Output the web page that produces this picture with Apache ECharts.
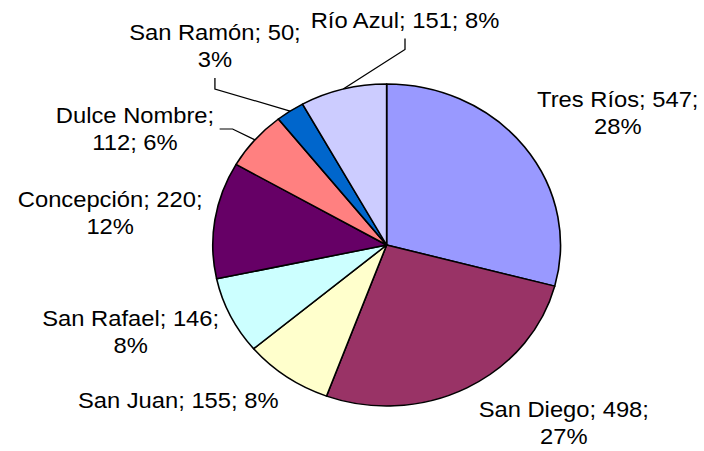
<!DOCTYPE html>
<html>
<head>
<meta charset="utf-8">
<script src="https://cdn.jsdelivr.net/npm/echarts@6/dist/echarts.min.js"></script>
<style>
  html, body { margin: 0; padding: 0; background: #fff; overflow: hidden; }
  /* the pie is drawn slightly wider than tall, like the original spreadsheet chart */
  #chart { width: 652px; height: 451px; transform: scaleX(1.08); transform-origin: 0 0; }
</style>
</head>
<body>
<div id="chart"></div>
<script>
// Districts and their counts
const districts = ['Tres Ríos', 'San Diego', 'San Juan', 'San Rafael', 'Concepción', 'Dulce Nombre', 'San Ramón', 'Río Azul'];
const counts = [547, 498, 155, 146, 220, 112, 50, 151];
// Percent shown in each label
const shares = [28, 27, 8, 8, 12, 6, 3, 8];
// Where each label wraps onto a second line
const breakAfter = ['value', 'value', 'none', 'value', 'value', 'name', 'value', 'none'];

const sliceColors = ['#9999FF', '#993366', '#FFFFCC', '#CCFFFF', '#660066', '#FF8080', '#0066CC', '#CCCCFF'];

// Label anchor points (centre of the text block) and leader-line sides
const labelPos = [[572, 113], [522, 423], [165, 400], [121, 332], [102, 213], [125, 129], [199, 46], [375, 20]];
const leaderSide = [null, null, null, null, null, 'right', 'bottom', 'bottom'];

function labelText(i) {
  const n = districts[i], v = counts[i], p = shares[i] + '%';
  if (breakAfter[i] === 'value') return n + '; ' + v + ';\n' + p;
  if (breakAfter[i] === 'name') return n + ';\n' + v + '; ' + p;
  return n + '; ' + v + '; ' + p;
}

const chart = echarts.init(document.getElementById('chart'), null, { renderer: 'svg' });

chart.setOption({
  animation: false,
  backgroundColor: '#ffffff',
  series: [{
    type: 'pie',
    center: [358, 245],
    radius: [0, 161],
    startAngle: 90,
    clockwise: true,
    avoidLabelOverlap: false,
    itemStyle: { borderColor: '#000000', borderWidth: 1.5 },
    label: {
      show: true,
      position: 'outside',
      color: '#000000',
      fontFamily: 'Arial, "Liberation Sans", sans-serif',
      fontSize: 22,
      lineHeight: 27,
      align: 'center',
      formatter: p => labelText(p.dataIndex)
    },
    labelLine: { show: false, length: 10, length2: 10, lineStyle: { color: '#000000', width: 1.2 } },
    emphasis: { disabled: true },
    labelLayout: function (params) {
      const i = params.dataIndex;
      const pos = labelPos[i];
      const out = { x: pos[0], y: pos[1], align: 'center', verticalAlign: 'middle' };
      const side = leaderSide[i];
      if (side && params.labelLinePoints) {
        const r = params.labelRect;
        const start = params.labelLinePoints[0]; // point on the slice's outer arc
        let p1, p2;
        if (side === 'bottom') {
          const yb = pos[1] + r.height / 2;
          p2 = [pos[0], yb + 5];
          p1 = [pos[0], yb + 16];
        } else {
          const xr = pos[0] + r.width / 2;
          p2 = [xr + 5, pos[1]];
          p1 = [xr + 17, pos[1]];
        }
        out.labelLinePoints = [start, p1, p2];
      }
      return out;
    },
    data: districts.map((name, i) => ({
      name: name,
      value: counts[i],
      itemStyle: { color: sliceColors[i] },
      labelLine: { show: leaderSide[i] !== null }
    }))
  }]
});
</script>
</body>
</html>
